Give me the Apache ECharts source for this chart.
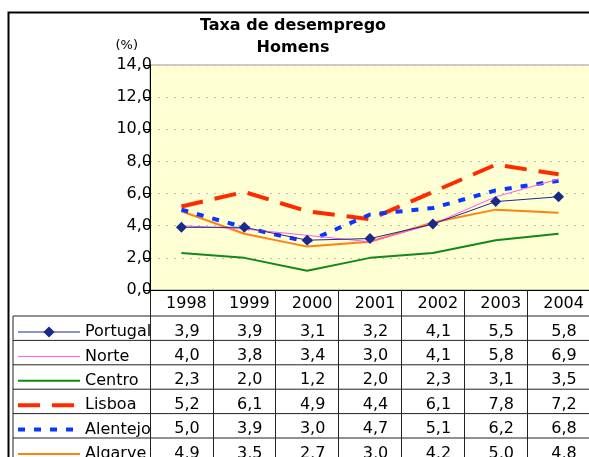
<!DOCTYPE html>
<html>
<head>
<meta charset="utf-8">
<script src="https://cdn.jsdelivr.net/npm/echarts@6/dist/echarts.min.js"></script>
<style>
  html, body { margin: 0; padding: 0; background: #fff; }
  #chart { width: 589px; height: 457px; }
</style>
</head>
<body>
<div id="chart"></div>
<script>
const years = ["1998", "1999", "2000", "2001", "2002", "2003", "2004"];
const portugal = [3.9, 3.9, 3.1, 3.2, 4.1, 5.5, 5.8];
const norte = [4.0, 3.8, 3.4, 3.0, 4.1, 5.8, 6.9];
const centro = [2.3, 2.0, 1.2, 2.0, 2.3, 3.1, 3.5];
const lisboa = [5.2, 6.1, 4.9, 4.4, 6.1, 7.8, 7.2];
const alentejo = [5.0, 3.9, 3.0, 4.7, 5.1, 6.2, 6.8];
const algarve = [4.9, 3.5, 2.7, 3.0, 4.2, 5.0, 4.8];
const yTicks = [0, 2, 4, 6, 8, 10, 12, 14];

const FONT = "DejaVu Sans";
const fmt = (v) => v.toFixed(1).replace(".", ",");

const rows = [
  { name: "Portugal", data: portugal, color: "#1a2a8a", width: 1, type: "solid", symbol: "diamond", z: 8 },
  { name: "Norte", data: norte, color: "#ff55ff", width: 1, type: "solid", symbol: "none", z: 6 },
  { name: "Centro", data: centro, color: "#11891a", width: 2, type: "solid", symbol: "none", z: 3 },
  { name: "Lisboa", data: lisboa, color: "#ff2a00", width: 4, type: [22, 12], symbol: "none", z: 4 },
  { name: "Alentejo", data: alentejo, color: "#0a36ff", width: 4, type: [7, 9], symbol: "none", z: 5 },
  { name: "Algarve", data: algarve, color: "#ff8210", width: 2, type: "solid", symbol: "none", z: 3 }
];

// table geometry
const plotBottom = 290;
const rowTop = 316;
const rowH = 24.4;

const tableAxes = rows.map((r, i) => ({
  type: "category",
  gridIndex: 0,
  position: "bottom",
  offset: rowTop + rowH * i + 15.5 - plotBottom,
  data: years,
  axisLine: { show: false },
  axisTick: { show: false },
  axisLabel: {
    interval: 0,
    margin: 0,
    verticalAlign: "middle",
    padding: [0, 0, 0, 11],
    color: "#000",
    fontFamily: FONT,
    fontSize: 16,
    formatter: (v, idx) => fmt(r.data[idx])
  }
}));

const tableLines = rows.map((r, i) => ({
  type: "line",
  shape: { x1: 13, y1: rowTop + rowH * i, x2: 600, y2: rowTop + rowH * i },
  style: { stroke: "#222", lineWidth: 1 },
  silent: true
}));

const option = {
  backgroundColor: "#fff",
  animation: false,
  title: {
    text: "Taxa de desemprego\nHomens",
    left: 293,
    textAlign: "center",
    top: 15,
    padding: 0,
    textStyle: { fontFamily: FONT, fontSize: 16, fontWeight: "bold", color: "#000", lineHeight: 22 }
  },
  legend: {
    orient: "vertical",
    left: 16,
    top: 324,
    height: 200,
    padding: 0,
    itemWidth: 62,
    itemHeight: 14,
    itemGap: 8.4,
    selectedMode: false,
    textStyle: { fontFamily: FONT, fontSize: 16, color: "#000", lineHeight: 16 },
    data: rows.map((r) => ({
      name: r.name,
      lineStyle: { width: r.width, type: r.type, color: r.color },
      itemStyle: r.symbol === "none" ? { color: "rgba(0,0,0,0)", borderWidth: 0 } : { color: r.color }
    }))
  },
  grid: {
    left: 150,
    top: 65,
    width: 440,
    height: 225,
    show: true,
    backgroundColor: "#ffffd4",
    borderColor: "#999",
    borderWidth: 1,
    outerBoundsMode: "none"
  },
  xAxis: [
    {
      type: "category",
      data: years,
      boundaryGap: true,
      axisLine: { lineStyle: { color: "#000", width: 1 } },
      axisTick: { show: true, interval: 0, length: 180, lineStyle: { color: "#222", width: 1 } },
      axisLabel: {
        interval: 0,
        margin: 14,
        verticalAlign: "middle",
        padding: [0, 0, 0, 10],
        color: "#000",
        fontFamily: FONT,
        fontSize: 16
      }
    }
  ].concat(tableAxes),
  yAxis: {
    type: "value",
    min: yTicks[0],
    max: yTicks[yTicks.length - 1],
    interval: 2,
    name: "(%)",
    nameLocation: "end",
    nameGap: 13,
    nameTextStyle: { fontFamily: FONT, fontSize: 13, color: "#000", align: "right", padding: [0, 12, 0, 0] },
    axisLine: { show: true, lineStyle: { color: "#000", width: 1 } },
    axisTick: { show: true, length: 6, lineStyle: { color: "#000" } },
    axisLabel: { margin: -2, color: "#000", fontFamily: FONT, fontSize: 16, formatter: (v) => fmt(v) },
    splitLine: { show: true, lineStyle: { color: "#bdbdbd", type: [2, 6], width: 1 } }
  },
  series: rows.map((r) => ({
    name: r.name,
    type: "line",
    data: r.data,
    z: r.z,
    symbol: r.symbol,
    symbolSize: 11,
    showSymbol: r.symbol !== "none",
    color: r.color,
    itemStyle: { color: r.color },
    lineStyle: { color: r.color, width: r.width, type: r.type },
    emphasis: { disabled: true }
  })),
  graphic: [
    {
      type: "rect",
      shape: { x: 8.5, y: 12.5, width: 700, height: 600 },
      style: { fill: "none", stroke: "#000", lineWidth: 2 },
      silent: true,
      z: 100
    },
    {
      type: "line",
      shape: { x1: 13, y1: rowTop, x2: 13, y2: 470 },
      style: { stroke: "#222", lineWidth: 1 },
      silent: true
    }
  ].concat(tableLines)
};

const chart = echarts.init(document.getElementById("chart"), null, { renderer: "canvas" });
chart.setOption(option);
</script>
</body>
</html>
